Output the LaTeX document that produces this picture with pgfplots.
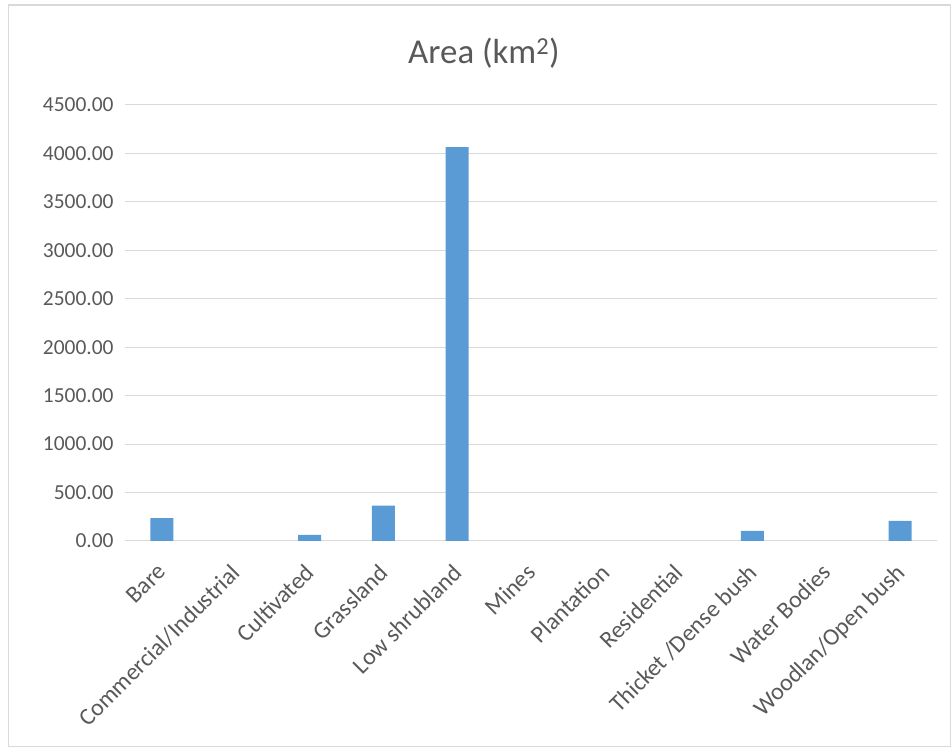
\documentclass[border=0pt]{standalone}
\usepackage{fontspec}
\setmainfont{Carlito}
\usepackage{pgfplots}
\pgfplotsset{compat=1.18}
\definecolor{barblue}{HTML}{5B9BD5}
\definecolor{gridgray}{HTML}{D9D9D9}
\definecolor{txtgray}{HTML}{595959}
\begin{document}
\begin{tikzpicture}[x=1bp,y=1bp]
\useasboundingbox (0,0) rectangle (951,747);
\draw[color=gridgray, line width=1.2bp] (8.5,0.5) rectangle (950.5,742);
\node[text=txtgray, font=\fontsize{35}{40}\selectfont] at (484,694) {Area (km\textsuperscript{2})};
\begin{axis}[
  at={(125bp,206bp)}, anchor=south west,
  scale only axis, width=812bp, height=436bp,
  xmin=-0.5, xmax=10.5, ymin=0, ymax=4500,
  ytick={0,500,...,4500},
  xtick={0,...,10},
  xticklabels={Bare,Commercial/Industrial,Cultivated,Grassland,Low shrubland,Mines,Plantation,Residential,Thicket /Dense bush,Water Bodies,Woodlan/Open bush},
  ymajorgrids, major grid style={color=gridgray, line width=1bp},
  axis line style={draw=none},
  major tick style={draw=none},
  /pgf/number format/.cd, fixed, fixed zerofill, precision=2, 1000 sep={}, assume math mode=true,
  /pgfplots/.cd,
  yticklabel style={text=txtgray, font=\fontsize{21.5}{25}\selectfont, xshift=-8bp},
  xticklabel style={text=txtgray, font=\fontsize{24}{28}\selectfont, rotate=45, anchor=north east, inner sep=2bp, xshift=-14bp, yshift=-6bp},
  ybar, bar width=23bp,
  y filter/.expression={y==0 ? nan : y},
  unbounded coords=discard,
]
\addplot[fill=barblue, draw=none] coordinates {
(0,235) (1,0) (2,62) (3,366) (4,4065) (5,0) (6,0) (7,0) (8,104) (9,0) (10,207)
};
\end{axis}
\end{tikzpicture}
\end{document}
